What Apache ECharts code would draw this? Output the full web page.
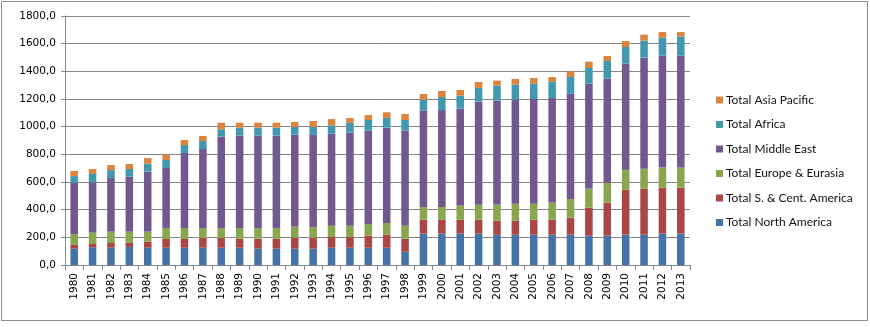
<!DOCTYPE html>
<html><head><meta charset="utf-8">
<script src="https://cdn.jsdelivr.net/npm/echarts@6/dist/echarts.min.js"></script>
<style>html,body{margin:0;padding:0;background:#fff}#c{width:870px;height:327px}</style>
</head><body><div id="c"></div>
<script>
const years = ['1980','1981','1982','1983','1984','1985','1986','1987','1988','1989','1990','1991','1992','1993','1994','1995','1996','1997','1998','1999','2000','2001','2002','2003','2004','2005','2006','2007','2008','2009','2010','2011','2012','2013'];
const northAmerica = [118,128,125,130,125,125,125,125,125,125,118,118,118,118,125,125,125,125,96,227,227,227,227,219,219,219,219,219,212,212,219,219,227,227];
const southCentAmerica = [27,24,34,29,44,63,63,70,70,65,72,72,80,80,77,77,87,94,94,101,101,101,101,101,101,109,109,123,202,239,326,333,332,332];
const europeEurasia = [79,82,82,82,72,79,79,72,72,77,77,77,79,77,82,82,84,85,94,91,91,101,108,116,123,115,123,135,138,144,144,144,145,145];
const middleEast = [369,364,388,398,434,434,543,572,661,668,668,668,665,665,665,673,675,689,687,697,701,701,745,752,752,757,756,762,759,752,766,803,809,809];
const africa = [50,60,58,55,58,58,57,57,53,58,58,58,56,58,61,70,77,70,77,77,94,94,99,108,109,111,118,120,113,128,121,123,130,138];
const asiaPacific = [37,36,36,36,40,39,37,37,48,36,36,36,36,43,45,36,36,41,44,43,44,41,43,37,41,41,34,41,46,36,43,43,41,33];
const yTicks = [0,200,400,600,800,1000,1200,1400,1600,1800];

const seriesDefs = [
  ['Total North America', northAmerica, '#4572A7'],
  ['Total S. & Cent. America', southCentAmerica, '#AA4643'],
  ['Total Europe & Eurasia', europeEurasia, '#89A54E'],
  ['Total Middle East', middleEast, '#71588F'],
  ['Total Africa', africa, '#4198AF'],
  ['Total Asia Pacific', asiaPacific, '#DB843D']
];
const chart = echarts.init(document.getElementById('c'), null, {renderer:'canvas'});
chart.setOption({
  animation: false,
  backgroundColor: '#fff',
  graphic: [{type:'rect', shape:{x:1.5,y:1.5,width:866,height:319}, style:{fill:'none', stroke:'#8c8c8c', lineWidth:1}, z:-1}],
  legend: {
    orient: 'vertical', left: 711, top: 89, itemGap: 12.5,
    itemWidth: 7, itemHeight: 7, icon: 'rect',
    textStyle: {fontFamily: 'Lato', fontSize: 12, color: '#111', padding:[0,0,0,-2]},
    data: seriesDefs.map(s => s[0]).reverse()
  },
  grid: {left: 65, right: 180, top: 16, bottom: 62, containLabel: false},
  xAxis: {
    type: 'category', data: years,
    axisLine: {lineStyle: {color: '#868686'}},
    axisTick: {show: true, length: 5, lineStyle: {color: '#868686'}},
    axisLabel: {rotate: 90, margin: 8, fontFamily: 'DejaVu Sans', fontSize: 10.5, color: '#000', interval: 0}
  },
  yAxis: {
    type: 'value', min: 0, max: 1800, interval: 200,
    axisLine: {show: true, lineStyle: {color: '#868686'}},
    axisTick: {show: true, length: 4, lineStyle: {color: '#868686'}},
    splitLine: {lineStyle: {color: '#868686'}},
    axisLabel: {margin: 9, fontFamily: 'DejaVu Sans', fontSize: 10.5, color: '#000',
      formatter: v => yTicks.indexOf(v) >= 0 ? v.toFixed(1).replace('.', ',') : ''}
  },
  series: seriesDefs.map(([name, data, color]) => ({
    name, type: 'bar', stack: 'total', data, barWidth: '41%',
    itemStyle: {color}
  }))
});
</script></body></html>
